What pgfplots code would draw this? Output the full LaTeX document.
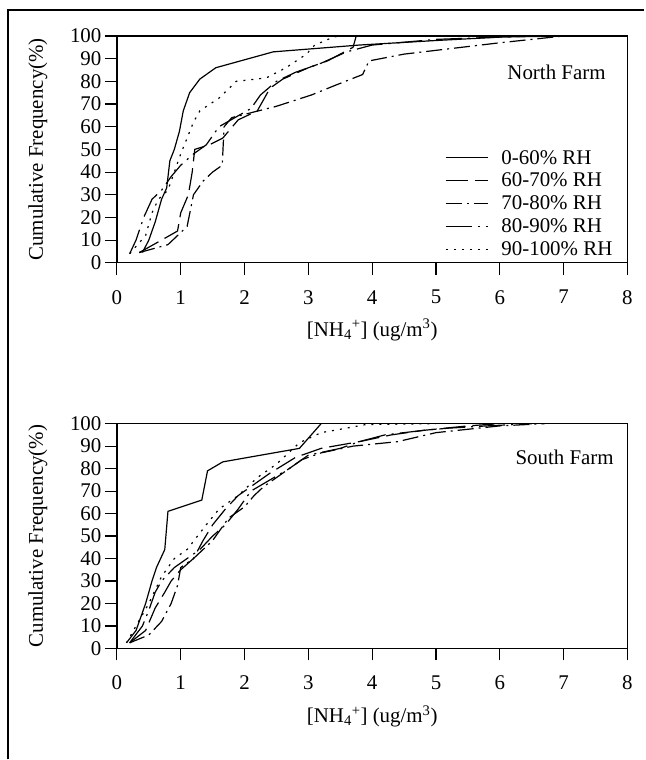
\documentclass[border=0pt]{standalone}
\usepackage{fontspec}
\setmainfont{Liberation Serif}
\usepackage{pgfplots}
\pgfplotsset{compat=1.18}

\newcommand{\figfont}{\fontsize{21}{24}\selectfont}

\pgfplotsset{
  rhstyle/.style={
    scale only axis, xmin=0, xmax=8, ymin=0, ymax=100,
    xtick={0,...,8}, ytick={0,10,...,100},
    tick pos=left,
    tick align=outside, major tick length=12bp,
    tick style={black, line width=1.1bp},
    axis line style={line width=1.2bp},
    every axis plot/.append style={black, line width=1.2bp},
    /pgf/number format/assume math mode=true,
    tick label style={font=\figfont},
    xticklabel style={yshift=-12bp},
    label style={font=\figfont},
    xlabel={[NH\textsubscript{4}\textsuperscript{+}] (ug/m\textsuperscript{3})},
    ylabel={Cumulative Frequency(\%)},
    ylabel style={at={(rel axis cs:-0.155,0.5)}, anchor=center},
    clip=false,
  },
  s0/.style={solid},
  s1/.style={dash pattern=on 22bp off 7bp},
  s2/.style={dash pattern=on 16bp off 5bp on 2bp off 5bp},
  s3/.style={dash pattern=on 26bp off 6bp on 2bp off 6bp},
  s4/.style={dash pattern=on 2bp off 6bp},
}

\begin{document}
\begin{tikzpicture}
  \path (0,0) rectangle (645bp,-760bp);
  % outer frame
  \draw[line width=1.3bp] (8bp,-760bp) -- (8bp,-10bp) -- (645bp,-10bp);

  % ---- North Farm ----
  \begin{axis}[rhstyle, at={(117bp,-263bp)}, anchor=south west,
      width=511bp, height=227bp,
      xlabel style={at={(rel axis cs:0.5,-0.295)}, anchor=center},
      legend cell align=left,
      legend style={at={(0.637,0.515)}, anchor=north west, draw=none, fill=none,
                    font=\figfont, row sep=3.5bp,
                    /tikz/every odd column/.append style={column sep=11bp}},
      legend image code/.code={\draw[#1] (0bp,0bp) -- (42bp,0bp);},
    ]
    \addplot[s0] coordinates {
      (0.40,4.5) (0.50,10) (0.60,18) (0.70,28) (0.78,33) (0.83,45) (0.90,50)
      (0.98,58) (1.04,67) (1.14,75) (1.30,81) (1.55,86) (2.45,93) (3.80,96)
      (5.00,98) (6.00,99.5) (7.00,100)};
    \addplot[s1] coordinates {
      (0.35,4.5) (0.70,10) (0.95,14) (1.00,22) (1.12,30) (1.18,40) (1.22,50)
      (1.45,52) (1.66,55) (1.90,63) (2.20,67) (2.30,72) (2.40,77) (2.60,81)
      (3.00,86) (3.30,89) (3.70,95) (3.75,100)};
    \addplot[s2] coordinates {
      (0.35,4.5) (0.80,8) (1.10,16) (1.20,30) (1.35,36) (1.50,40) (1.65,43)
      (1.68,60) (1.80,64) (2.50,69) (3.05,74) (3.40,78) (3.85,83) (3.95,89)
      (4.50,92) (6.00,97) (7.00,100)};
    \addplot[s3] coordinates {
      (0.20,4) (0.30,10) (0.42,20) (0.55,28) (0.70,32) (0.85,38) (1.00,43)
      (1.20,48) (1.40,52) (1.60,60) (1.85,64) (2.10,68) (2.25,74) (2.50,80)
      (2.80,84) (3.20,88) (3.60,93) (4.00,96) (5.00,98.5) (6.50,100)};
    \addplot[s4] coordinates {
      (0.20,4) (0.45,12) (0.55,22) (0.65,28) (0.80,32) (0.90,40) (1.00,48)
      (1.10,55) (1.20,62) (1.30,67) (1.60,72.6) (1.87,80) (2.34,81.5)
      (2.65,86) (2.97,92) (3.10,96) (3.40,99.6) (3.50,100)};
    \legend{0-60\% RH, 60-70\% RH, 70-80\% RH, 80-90\% RH, 90-100\% RH}
    \node[font=\figfont] at (rel axis cs:0.861,0.841) {North Farm};
  \end{axis}

  % ---- South Farm ----
  \begin{axis}[rhstyle, at={(117bp,-649bp)}, anchor=south west,
      width=511bp, height=225bp,
      xlabel style={at={(rel axis cs:0.5,-0.302)}, anchor=center}]
    \addplot[s0] coordinates {
      (0.15,2.5) (0.30,8) (0.45,20) (0.55,30) (0.62,36) (0.75,44) (0.80,61)
      (1.33,66) (1.42,79) (1.66,83) (2.86,89) (3.20,100)};
    \addplot[s1] coordinates {
      (0.20,2.5) (0.45,8) (0.60,18) (0.75,25) (0.85,30) (1.00,35) (1.20,40)
      (1.35,48) (1.50,55) (1.70,62) (1.90,68) (2.10,72) (2.40,78) (2.80,85)
      (3.20,89) (3.80,92) (4.30,95) (4.80,97) (5.50,99) (6.00,100)};
    \addplot[s2] coordinates {
      (0.20,2.5) (0.50,6) (0.70,12) (0.85,20) (0.95,28) (1.00,36) (1.20,40)
      (1.50,48) (1.60,52) (1.75,58) (2.00,63) (2.15,68) (2.30,72) (2.60,78)
      (2.90,84) (3.20,87) (3.70,90) (4.40,92) (5.00,96) (6.00,99) (6.70,100)};
    \addplot[s3] coordinates {
      (0.20,2.5) (0.40,10) (0.50,17) (0.60,25) (0.70,30) (0.90,36) (1.10,40)
      (1.30,44) (1.50,50) (1.70,55) (1.90,62) (2.10,70) (2.40,75) (2.70,80)
      (3.00,86) (3.50,89) (3.80,92) (4.20,95) (4.80,97) (5.20,98) (5.80,99)
      (6.50,100)};
    \addplot[s4] coordinates {
      (0.15,2.5) (0.30,10) (0.50,20) (0.70,32) (0.90,40) (1.10,44) (1.40,55)
      (1.60,62) (1.90,68) (2.20,76) (2.50,82) (2.86,91.5) (3.20,96) (3.60,98)
      (3.90,99.6) (5.00,100)};
    \node[font=\figfont] at (rel axis cs:0.877,0.849) {South Farm};
  \end{axis}
\end{tikzpicture}
\end{document}
